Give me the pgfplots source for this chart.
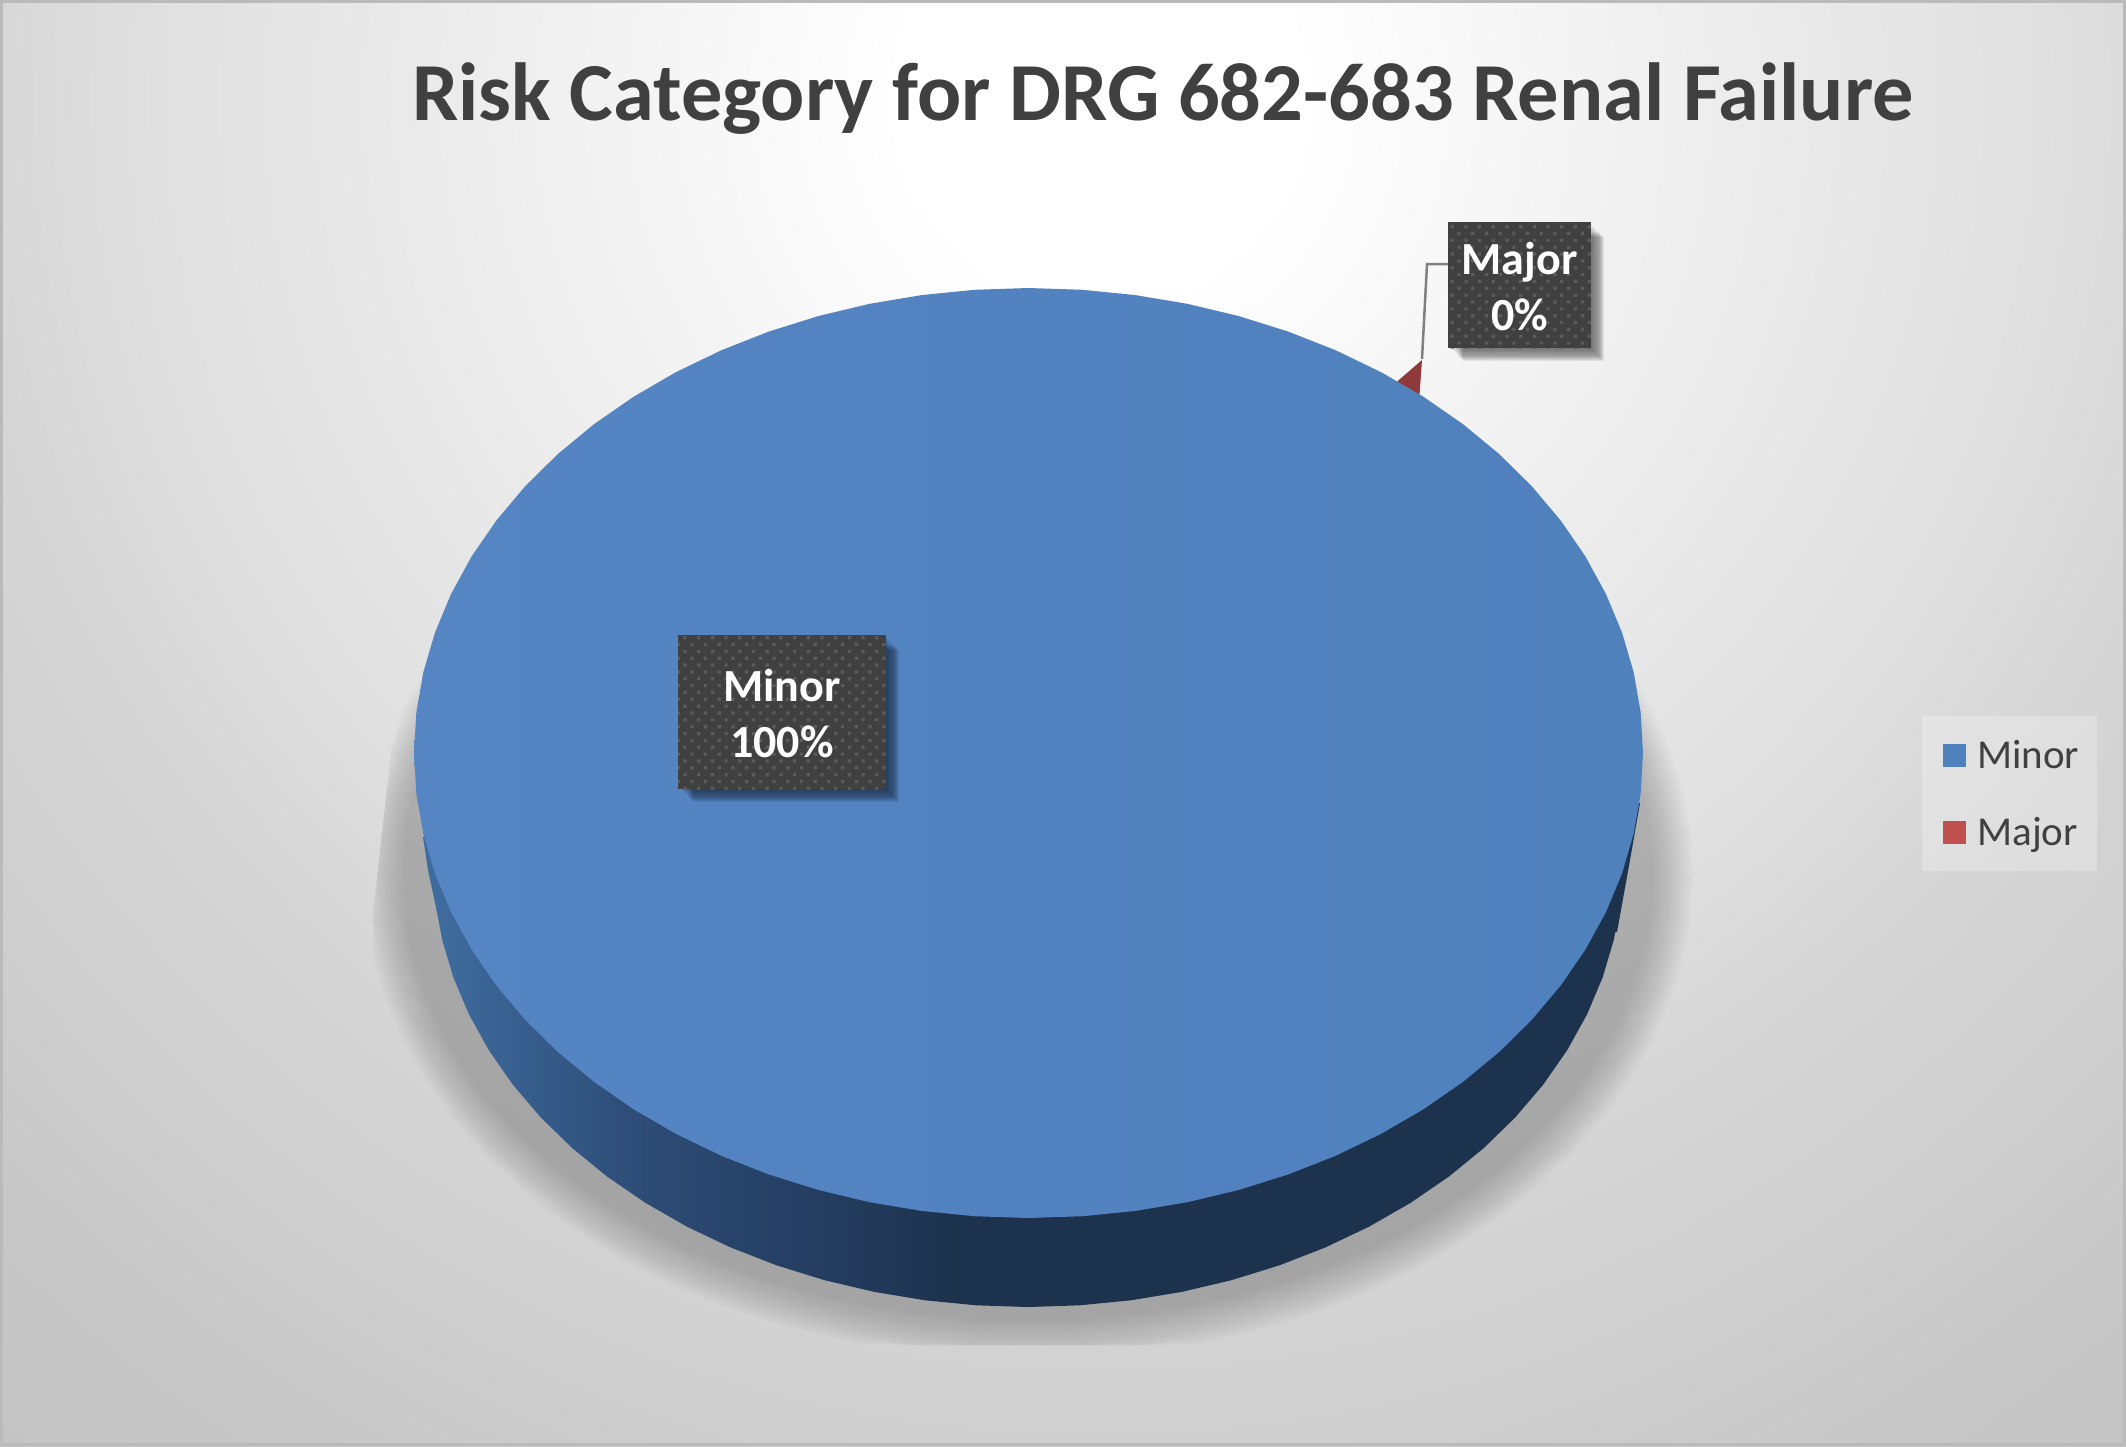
\documentclass[border=0pt]{standalone}
\usepackage{pgfplots}
\usepackage{pgfplotstable}
\pgfplotsset{compat=1.18}
\usepackage{fontspec}
\setmainfont{Carlito}
\usetikzlibrary{patterns}
\definecolor{minorblue}{HTML}{4F81BD}
\definecolor{topleft}{HTML}{5585C3}
\definecolor{majorred}{HTML}{C0504D}
\definecolor{wedgered}{HTML}{8F3A3A}
\definecolor{txt}{HTML}{404040}
\pgfdeclareradialshading{bgshade}{\pgfpoint{0bp}{0bp}}{%
  color(0bp)=(white); color(3.1bp)=(white);
  color(9.4bp)=(black!6.7!white); color(14.8bp)=(black!12.2!white);
  color(18bp)=(black!16.5!white); color(21.1bp)=(black!18.8!white);
  color(24.2bp)=(black!21.9!white); color(27bp)=(black!23!white); color(50bp)=(black!23!white)}
\definecolor{sa}{HTML}{3F6C9F}\definecolor{sb}{HTML}{2D4C76}\definecolor{sc}{HTML}{233B5E}\definecolor{sd}{HTML}{1D324D}
\pgfdeclarehorizontalshading{sideshade}{100bp}{%
  color(0bp)=(sa); color(25bp)=(sa); color(33.6bp)=(sb); color(42.1bp)=(sc); color(46.7bp)=(sd); color(100bp)=(sd)}
\pgfdeclarepatternformonly{boxdots}{\pgfqpoint{-1pt}{-1pt}}{\pgfqpoint{6pt}{6pt}}{\pgfqpoint{6.85pt}{6.85pt}}{%
  \pgfpathrectangle{\pgfqpoint{-0.8pt}{-0.8pt}}{\pgfqpoint{1.6pt}{1.6pt}}%
  \pgfpathrectangle{\pgfqpoint{2.63pt}{2.63pt}}{\pgfqpoint{1.6pt}{1.6pt}}%
  \pgfusepath{fill}}
\pgfplotstableread{
c s
1 0
0.99619 0.08716
0.98481 0.17365
0.96593 0.25882
0.93969 0.34202
0.90631 0.42262
0.86603 0.5
0.81915 0.57358
0.76604 0.64279
0.70711 0.70711
0.64279 0.76604
0.57358 0.81915
0.5 0.86603
0.42262 0.90631
0.34202 0.93969
0.25882 0.96593
0.17365 0.98481
0.08716 0.99619
0 1
-0.08716 0.99619
-0.17365 0.98481
-0.25882 0.96593
-0.34202 0.93969
-0.42262 0.90631
-0.5 0.86603
-0.57358 0.81915
-0.64279 0.76604
-0.70711 0.70711
-0.76604 0.64279
-0.81915 0.57358
-0.86603 0.5
-0.90631 0.42262
-0.93969 0.34202
-0.96593 0.25882
-0.98481 0.17365
-0.99619 0.08716
-1 0
-0.99619 -0.08716
-0.98481 -0.17365
-0.96593 -0.25882
-0.93969 -0.34202
-0.90631 -0.42262
-0.86603 -0.5
-0.81915 -0.57358
-0.76604 -0.64279
-0.70711 -0.70711
-0.64279 -0.76604
-0.57358 -0.81915
-0.5 -0.86603
-0.42262 -0.90631
-0.34202 -0.93969
-0.25882 -0.96593
-0.17365 -0.98481
-0.08716 -0.99619
0 -1
0.08716 -0.99619
0.17365 -0.98481
0.25882 -0.96593
0.34202 -0.93969
0.42262 -0.90631
0.5 -0.86603
0.57358 -0.81915
0.64279 -0.76604
0.70711 -0.70711
0.76604 -0.64279
0.81915 -0.57358
0.86603 -0.5
0.90631 -0.42262
0.93969 -0.34202
0.96593 -0.25882
0.98481 -0.17365
0.99619 -0.08716
1 0
}\unitcircle
\newcommand{\labelbox}[4]{%
  \pgfplotsinvokeforeach{4,6,8,10,11,12,13,14,15}{%
    \fill[black,fill opacity=0.07] (axis cs:#1+##1,#2+##1) rectangle (axis cs:#3+##1-2,#4+##1-2);}
  \fill[txt] (axis cs:#1,#2) rectangle (axis cs:#3,#4);
  \path[pattern=boxdots,pattern color=white!14!txt] (axis cs:#1,#2) rectangle (axis cs:#3,#4);
}
\begin{document}
\begin{tikzpicture}
\path[use as bounding box] (0,0) rectangle (1063pt,723pt);
\begin{scope}
\clip (0,0) rectangle (1063pt,723pt);
\shade[overlay,shading=bgshade] (-250pt,-127pt) rectangle (1350pt,1473pt);
\end{scope}
\begin{axis}[
  at={(0,0)},anchor=south west,
  scale only axis,width=1063pt,height=723pt,
  xmin=0,xmax=2126,ymin=0,ymax=1446,y dir=reverse,
  hide axis,clip=false,
  legend style={at={(axis cs:1943,735.5)},anchor=north west,draw=none,fill=none,
    font=\fontsize{20.5}{24}\selectfont,text=txt,row sep=19pt,inner sep=0pt,
    cells={anchor=west}},
  legend image code/.code={\fill[draw=none,#1] (0pt,-5.75pt) rectangle (11.5pt,5.75pt);\path (14.8pt,0pt);},
]
% shadow
\pgfplotsinvokeforeach{0,...,13}{
\addplot[forget plot,draw=none,fill=black,fill opacity=0.015]
  table[x expr={max(1028+(665-3*#1)*\thisrow{c},405-0.111*(875+(485-3*#1)*\thisrow{s}-625))},
        y expr={min(1345,875+(485-3*#1)*\thisrow{s})}]{\unitcircle};
}
% Major slice
\addplot[forget plot,draw=none,fill=wedgered] coordinates {(1422,360) (1392,386) (1419,402) (1422,360)};
% pie side and top
\addplot[forget plot,draw=none,fill=sa] coordinates {(423,837) (428,870) (444,945) (500,945) (500,837) (423,837)};
\addplot[forget plot,draw=none,fill=sd] coordinates {(1640,803) (1630,860) (1617,932) (1500,932) (1500,803) (1640,803)};
\addplot[forget plot,draw=none,shading=sideshade]
  table[x expr=1028+595*\thisrow{c},y expr=862+445*\thisrow{s}]{\unitcircle};
\addplot[forget plot,draw=none,left color=topleft,right color=minorblue]
  table[x expr=1028.5+614.5*\thisrow{c},y expr=753+465*\thisrow{s}]{\unitcircle};
% leader
\addplot[forget plot,color=black!50,line width=1.25pt] coordinates {(1422,359) (1427,264) (1448,264)};
% labels
\labelbox{1448}{222}{1591}{348}
\labelbox{678}{635}{886}{789}
\node[anchor=base,text=white,font=\fontsize{23}{26}\selectfont\bfseries] at (axis cs:782,701) {Minor};
\node[anchor=base,text=white,font=\fontsize{23}{26}\selectfont\bfseries] at (axis cs:782,757) {100\%};
\node[anchor=base,text=white,font=\fontsize{23}{26}\selectfont\bfseries] at (axis cs:1519.5,274) {Major};
\node[anchor=base,text=white,font=\fontsize{23}{26}\selectfont\bfseries] at (axis cs:1519.5,330) {0\%};
% title
\node[anchor=base,text=txt,font=\fontsize{41.2}{48}\selectfont\bfseries] at (axis cs:1163,120.5) {Risk Category for DRG 682-683 Renal Failure};
% legend background
\fill[white,fill opacity=0.25] (axis cs:1922,716) rectangle (axis cs:2097,871);
\addlegendimage{fill=minorblue}\addlegendentry{Minor}
\addlegendimage{fill=majorred}\addlegendentry{Major}
% frame
\draw[color=black!27,line width=1.5pt] (axis cs:1.5,1.5) rectangle (axis cs:2124,1444);
\end{axis}
\end{tikzpicture}
\end{document}
